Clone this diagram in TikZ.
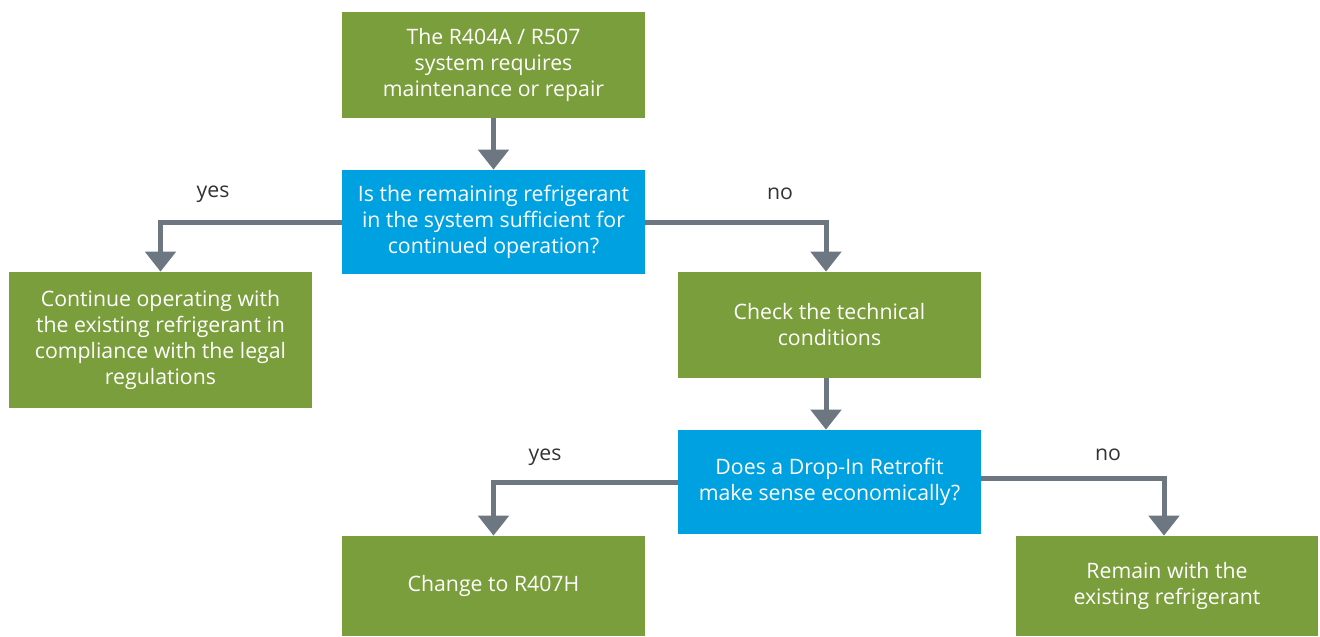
\documentclass[tikz,border=0pt]{standalone}
\usepackage{fontspec}
\setmainfont{Open Sans}
\usetikzlibrary{positioning}
\usetikzlibrary{calc}
\usetikzlibrary{arrows.meta}
\definecolor{boxgreen}{HTML}{7A9E3B}
\definecolor{boxblue}{HTML}{00A1E0}
\definecolor{flowgray}{HTML}{6D7781}
\definecolor{labelgray}{HTML}{333333}
\tikzset{
	every node/.style={align=center,font=\fontsize{12.1}{14.8}\selectfont},
	greenbox/.style={fill=boxgreen,text=white,minimum width=6.06cm,minimum height=2.12cm,inner sep=0pt},
	bluebox/.style={fill=boxblue,text=white,minimum width=6.06cm,minimum height=2.08cm,inner sep=0pt},
	flow/.style={draw=flowgray,line width=0.1cm,-{Triangle[width=0.6cm,length=0.4cm]}},
	answer/.style={text=labelgray},
}

\begin{document}
\begin{tikzpicture}
		
		% page frame..................
		\useasboundingbox (0,0) rectangle (26.4,-12.72);
		
		% boxes.......................
		\node [greenbox] (repair) at (9.87,-1.30) {The R404A / R507\\system requires\\maintenance or repair};
		\node [bluebox] (enough) at (9.87,-4.44) {Is the remaining refrigerant\\in the system sufficient for\\continued operation?};
		\node [greenbox, minimum height=2.72cm] (keep) at (3.21,-6.80) {Continue operating with\\the existing refrigerant in\\compliance with the legal\\regulations};
		\node [greenbox] (check) at (16.59,-6.50) {Check the technical\\conditions};
		\node [bluebox] (retrofit) at (16.59,-9.64) {Does a Drop-In Retrofit\\make sense economically?};
		\node [greenbox, minimum height=2.0cm] (change) at (9.87,-11.72) {Change to R407H};
		\node [greenbox, minimum width=6.04cm, minimum height=2.0cm] (remain) at (23.34,-11.72) {Remain with the\\existing refrigerant};
		
		% arrows......................
		\draw [flow] (repair) to (enough);
		\draw [flow] (enough.west) -| (keep.north);
		\draw [flow] (enough.east) -| ($(check.north)+(-0.07,0)$);
		\draw [flow] ($(check.south)+(-0.07,0)$) to ($(retrofit.north)+(-0.07,0)$);
		\draw [flow] (retrofit.west) -| (change.north);
		\draw [flow] ($(retrofit.east)+(0,0.08)$) -| ($(remain.north)+(-0.06,0)$);
		
		% labels......................
		\node [answer] (yesleft) at (4.26,-3.88) {yes};
		\node [answer] (noright) at (15.6,-3.88) {no};
		\node [answer] (yeslow) at (10.9,-9.14) {yes};
		\node [answer] (nolow) at (22.16,-9.10) {no};
		
	\end{tikzpicture}
\end{document}
